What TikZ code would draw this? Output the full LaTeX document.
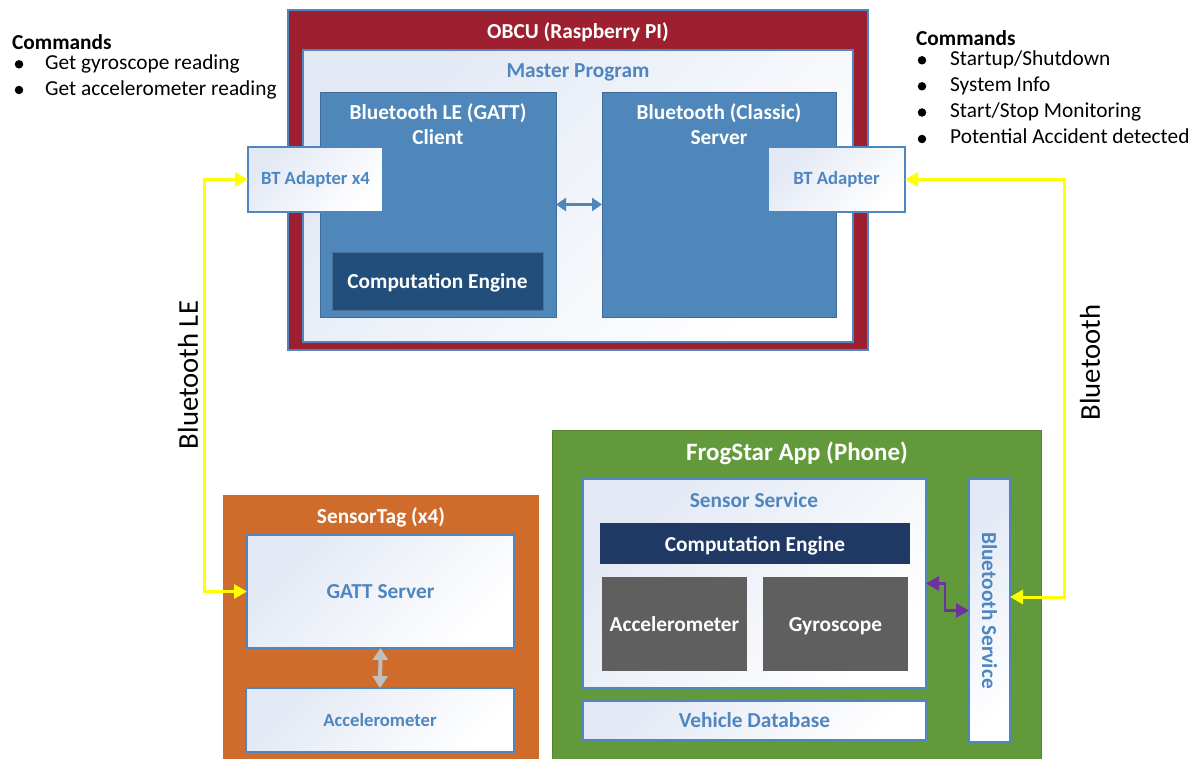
\documentclass[tikz,border=0pt]{standalone}
\usepackage{fontspec}
\setmainfont{Carlito}
\usetikzlibrary{arrows.meta}

\definecolor{obcured}{HTML}{9E2030}
\definecolor{edgeblue}{HTML}{4F86C0}
\definecolor{midblue}{HTML}{4F87BA}
\definecolor{darkblue}{HTML}{214E7A}
\definecolor{navy}{HTML}{203864}
\definecolor{tagorange}{HTML}{CF6B2B}
\definecolor{appgreen}{HTML}{62993B}
\definecolor{chipgray}{HTML}{5F5F5F}
\definecolor{linkgray}{HTML}{BFBFBF}
\definecolor{linkpurple}{HTML}{7030A0}
\definecolor{linkyellow}{HTML}{FFFF00}
\definecolor{panelshade}{HTML}{E2E8F4}
\definecolor{labelblue}{HTML}{4F86C0}

% font sizes used throughout
\newcommand{\fnormal}{\fontsize{21.33}{25}\selectfont}
\newcommand{\fsmall}{\fontsize{18.67}{22}\selectfont}
\newcommand{\flarge}{\fontsize{25}{29}\selectfont}
\newcommand{\flink}{\fontsize{28.7}{33}\selectfont}

\tikzset{
  box/.style={rectangle, inner sep=0pt, outer sep=0pt, anchor=center},
  outerbox/.style={box, draw=edgeblue, line width=1.2pt},
  panel/.style={box, draw=edgeblue, line width=2pt, top color=panelshade,
    bottom color=white, shading angle=45, text=labelblue,
    font=\bfseries\fnormal},
  bluebox/.style={box, fill=midblue, draw=edgeblue!80!black, line width=0.8pt},
  darkbox/.style={box, text=white, font=\bfseries\fnormal,
    text height=16pt, text depth=1pt},
  title/.style={inner sep=0pt, font=\bfseries\fnormal},
  note/.style={inner sep=0pt, anchor=base west, font=\fnormal},
  bulletdot/.style={circle, fill=black, inner sep=0pt, minimum size=8.5pt},
  linktext/.style={inner sep=0pt, rotate=90, font=\flink},
  yellowlink/.style={draw=linkyellow, line width=3pt,
    {Triangle[length=13pt,width=14pt]}-{Triangle[length=13pt,width=14pt]}},
}

\begin{document}
\begin{tikzpicture}[x=1pt, y=-1pt]
\useasboundingbox (0,0) rectangle (1200,759);
\clip (0,0) rectangle (1200,759);

% on-board control unit
\node[outerbox, fill=obcured, minimum width=580pt, minimum height=340pt] (obcu) at (578,180) {};
\node[title, text=white] (obcut) at (578,32) {OBCU (Raspberry PI)};
\node[panel, minimum width=550pt, minimum height=292pt] (master) at (578,196) {};
\node[title, text=labelblue] (mastert) at (578,72) {Master Program};
\node[bluebox, minimum width=236pt, minimum height=225pt] (ble) at (438,204.5) {};
\node[title, text=white, align=center] (blet) at (438,124.5) {Bluetooth LE (GATT)\\Client};
\node[bluebox, minimum width=234pt, minimum height=225pt] (classic) at (719,204.5) {};
\node[title, text=white, align=center] (classict) at (719,124.5) {Bluetooth (Classic)\\Server};
\node[darkbox, fill=darkblue, draw=darkblue!80!white, line width=0.8pt, minimum width=211pt, minimum height=58pt] (ceobcu) at (437.5,281) {Computation Engine};
\node[panel, minimum width=135pt, minimum height=65pt, font=\bfseries\fsmall] (bta4) at (315.5,179.5) {BT Adapter x4};
\node[panel, minimum width=137pt, minimum height=65pt, font=\bfseries\fsmall] (bta) at (836.5,179.5) {BT Adapter};

% sensor tag
\node[box, fill=tagorange, minimum width=316pt, minimum height=280pt] (tag) at (381,635) {};
\node[title, text=white] (tagt) at (381,517) {SensorTag (x4)};
\node[panel, minimum width=267pt, minimum height=113pt] (gatt) at (380.5,591.5) {GATT Server};
\node[panel, minimum width=268pt, minimum height=64pt, font=\bfseries\fsmall] (tagacc) at (380,720) {Accelerometer};

% phone application
\node[box, fill=appgreen, draw=appgreen!85!black, line width=0.8pt, minimum width=489pt, minimum height=350pt] (app) at (796.5,605) {};
\node[title, text=white, font=\bfseries\flarge] (appt) at (797,453) {FrogStar App (Phone)};
\node[panel, minimum width=343pt, minimum height=209pt] (sensorsvc) at (754.5,583.5) {};
\node[title, text=labelblue] (sensorsvct) at (754,500) {Sensor Service};
\node[darkbox, fill=navy, minimum width=310pt, minimum height=41pt] (ceapp) at (755,543.5) {Computation Engine};
\node[darkbox, fill=chipgray, minimum width=145pt, minimum height=94pt] (appacc) at (674.5,624) {Accelerometer};
\node[darkbox, fill=chipgray, minimum width=145pt, minimum height=94pt] (gyro) at (835.5,624) {Gyroscope};
\node[panel, minimum width=343pt, minimum height=39pt] (vdb) at (754.5,720.5) {Vehicle Database};
\node[panel, minimum width=41pt, minimum height=263pt] (btsvc) at (989.5,610.5) {};
\node[inner sep=0pt, rotate=-90, text=labelblue, font=\bfseries\fnormal] (btsvct) at (btsvc.center) {Bluetooth Service};

% links
\draw[draw=midblue, line width=2.5pt, {Triangle[length=10pt,width=13pt]}-{Triangle[length=10pt,width=13pt]}] (ble.east) -- (classic.west);
\draw[draw=linkgray, line width=4pt, {Triangle[length=12pt,width=15pt]}-{Triangle[length=12pt,width=15pt]}] (gatt.south) -- (tagacc.north);
\draw[draw=linkpurple, line width=2.5pt, {Triangle[length=13pt,width=14pt]}-{Triangle[length=13pt,width=14pt]}] (sensorsvc.east) -- ++(19,0) |- (btsvc.west);
\draw[yellowlink] (gatt.west) -- ++(-43,0) |- (bta4.west);
\draw[yellowlink] (bta.east) -- ++(159,0) |- ([yshift=13.5pt]btsvc.east);
\node[linktext] (lelabel) at (188,375) {Bluetooth LE};
\node[linktext] (btlabel) at (1090,362.5) {Bluetooth};

% command lists
\node[note, font=\bfseries\fnormal] (lcmd) at (12,50) {Commands};
\node[bulletdot] (lb1) at (19,64.3) {};
\node[note] (li1) at (45,69.5) {Get gyroscope reading};
\node[bulletdot] (lb2) at (19,90) {};
\node[note] (li2) at (45,95.5) {Get accelerometer reading};

\node[note, font=\bfseries\fnormal] (rcmd) at (916,45.5) {Commands};
\node[bulletdot] (rb1) at (922,60.3) {};
\node[note] (ri1) at (950,65.5) {Startup/Shutdown};
\node[bulletdot] (rb2) at (922,86.3) {};
\node[note] (ri2) at (950,91.5) {System Info};
\node[bulletdot] (rb3) at (922,112.5) {};
\node[note] (ri3) at (950,117.5) {Start/Stop Monitoring};
\node[bulletdot] (rb4) at (922,139) {};
\node[note] (ri4) at (950,144) {Potential Accident detected};
\end{tikzpicture}
\end{document}
